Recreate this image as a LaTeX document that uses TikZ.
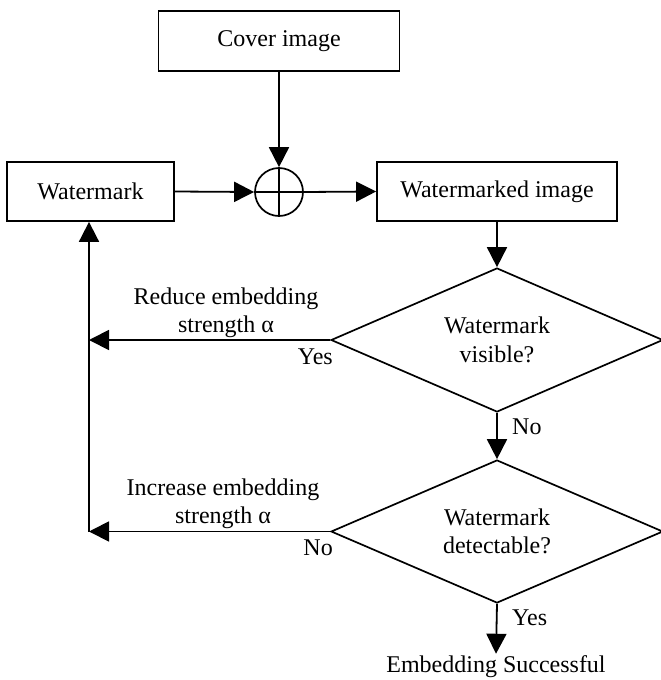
\documentclass[tikz,border=0pt]{standalone}
\usepackage{fontspec}
\setmainfont{Liberation Serif}
\usetikzlibrary{arrows.meta,shapes.geometric}
\begin{document}
\begin{tikzpicture}[x=1pt,y=-1pt,
  every node/.style={font=\fontsize{24pt}{28.5pt}\selectfont},
  box/.style={draw,line width=1.8pt,rectangle,inner sep=0pt},
  dec/.style={draw,line width=1.7pt,diamond,aspect=2.3,inner sep=0pt,align=center},
  arr/.style={line width=1.8pt,-{Triangle[length=20pt,width=20pt]}},
  lbl/.style={inner sep=0pt,align=center}]
\useasboundingbox (0,0) rectangle (661,680);
\node[box,minimum width=241pt,minimum height=60pt] (cover) at (279,41) {Cover image};
\node[box,minimum width=167pt,minimum height=59pt] (wm) at (90.5,191.5) {Watermark};
\node[draw,circle,line width=1.7pt,minimum size=48pt,inner sep=0pt] (sum) at (279,192) {};
\draw[line width=1.7pt] (sum.north) -- (sum.south) (sum.west) -- (sum.east);
\node[box,minimum width=240pt,minimum height=59pt] (wmi) at (497,191.5) {Watermarked image};
\node[dec,minimum width=332pt,minimum height=144pt] (d1) at (497,340) {Watermark\\visible?};
\node[dec,minimum width=332pt,minimum height=143pt] (d2) at (497,531.5) {Watermark\\detectable?};
\node[inner sep=2pt] (done) at (496,667) {Embedding Successful};
\coordinate (f1) at (89,340);
\coordinate (f2) at (89,531.5);
\draw[arr] (cover.south) -- (sum.north);
\draw[arr] (wm.east) -- (sum.west);
\draw[arr] (sum.east) -- (wmi.west);
\draw[arr] (wmi.south) -- (d1.north);
\draw[arr] (d1.south) -- (d2.north);
\draw[arr] (d2.south) -- (done.north);
\draw[arr] (d1.west) -- (f1);
\draw[arr] (d2.west) -- (f2);
\draw[arr] (f2) -- (f2 |- wm.south);
\node[lbl] (t1) at (226,313) {Reduce embedding\\strength α};
\node[lbl] (t2) at (223,504) {Increase embedding\\strength α};
\node[lbl,anchor=east] (y1) at (333,357) {Yes};
\node[lbl,anchor=west] (n1) at (512,427) {No};
\node[lbl,anchor=east] (n2) at (333,548) {No};
\node[lbl,anchor=west] (y2) at (512,618) {Yes};
\end{tikzpicture}
\end{document}
